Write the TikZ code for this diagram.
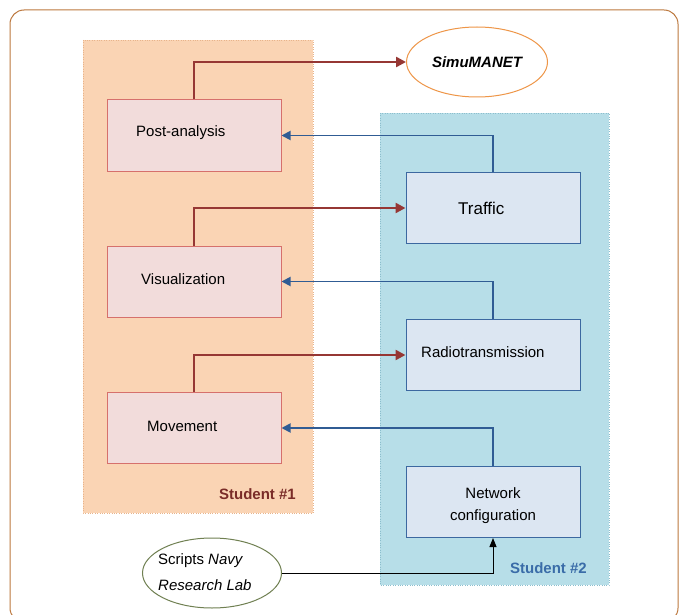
\documentclass[tikz,border=0pt]{standalone}
\usepackage{fontspec}
\setmainfont{Liberation Sans}
\usetikzlibrary{arrows.meta,shapes.geometric}
\definecolor{frameC}{RGB}{188,120,62}
\definecolor{orangeFill}{RGB}{250,212,180}
\definecolor{orangeLine}{RGB}{232,180,140}
\definecolor{blueFill}{RGB}{183,222,232}
\definecolor{blueLine}{RGB}{140,190,205}
\definecolor{redBoxFill}{RGB}{242,220,219}
\definecolor{redBoxLine}{RGB}{214,112,108}
\definecolor{blueBoxFill}{RGB}{220,230,242}
\definecolor{blueBoxLine}{RGB}{60,104,160}
\definecolor{redArrow}{RGB}{150,55,52}
\definecolor{blueArrow}{RGB}{48,92,148}
\definecolor{stuOne}{RGB}{122,44,40}
\definecolor{stuTwo}{RGB}{58,108,168}
\definecolor{simuLine}{RGB}{238,150,72}
\definecolor{scriptLine}{RGB}{112,128,82}
\tikzset{
  redbox/.style={draw=redBoxLine, fill=redBoxFill, line width=1pt, minimum width=174pt, minimum height=71pt, inner sep=0pt},
  bluebox/.style={draw=blueBoxLine, fill=blueBoxFill, line width=1pt, minimum width=174pt, minimum height=71pt, inner sep=0pt},
  lbl/.style={font=\fontsize{15}{18}\selectfont, inner sep=0pt, anchor=west},
  redarr/.style={draw=redArrow, line width=2.4pt, -{Triangle[length=10pt,width=10pt]}},
  bluearr/.style={draw=blueArrow, line width=1.8pt, -{Triangle[length=9pt,width=9pt]}},
  blackarr/.style={draw=black, line width=1pt, -{Triangle[length=9pt,width=7pt]}},
}
\begin{document}
\begin{tikzpicture}[x=1pt,y=-1pt]
\useasboundingbox (0,0) rectangle (680,615);
\fill[white] (0,0) rectangle (680,615);
% outer frame
\draw[frameC, line width=1pt, rounded corners=14pt] (10,10) rectangle (678,622);
% regions
\draw[orangeLine, fill=orangeFill, dotted] (83,40) rectangle (313,513);
\draw[blueLine, fill=blueFill, dotted] (380,113) rectangle (609,585);
% boxes
\node[redbox] (post) at (194,135.5) {};
\node[redbox] (vis) at (194,281.5) {};
\node[redbox] (move) at (194,428) {};
\node[bluebox] (traffic) at (493,208) {};
\node[bluebox] (radio) at (493,355) {};
\node[bluebox, align=center, font=\fontsize{15}{24}\selectfont] (net) at (493,502) {};
% box texts
\node[lbl] (postT) at (136,133) {Post-analysis};
\node[lbl] (visT) at (141,279) {Visualization};
\node[lbl] (moveT) at (147,426) {Movement};
\node[lbl, font=\fontsize{17}{20}\selectfont] (trafT) at (458,208) {Traffic};
\node[lbl] (radioT) at (421,352) {Radiotransmission};
\node[lbl, anchor=center] (netT1) at (493,493) {Network};
\node[lbl, anchor=center] (netT2) at (493,517) {configuration};
% ellipses
\node[ellipse, draw=simuLine, fill=white, line width=1pt, minimum width=141pt, minimum height=70pt, font=\fontsize{15}{18}\selectfont\bfseries\itshape] (simu) at (477,62) {SimuMANET};
\node[ellipse, draw=scriptLine, fill=white, line width=1pt, minimum width=139pt, minimum height=70pt, inner sep=0pt] (scripts) at (212,573) {};
\node[lbl] (scrT1) at (158,561) {Scripts \textit{Navy}};
\node[lbl] (scrT2) at (158,585) {\textit{Research Lab}};
% student labels
\node[font=\fontsize{15}{18}\selectfont\bfseries, text=stuOne, anchor=east, inner sep=0pt] (s1) at (296,494) {Student \#1};
\node[font=\fontsize{15}{18}\selectfont\bfseries, text=stuTwo, anchor=east, inner sep=0pt] (s2) at (587,568) {Student \#2};
% red arrows
\draw[redarr] (post.north) |- (simu.west);
\draw[redarr] (vis.north) |- (traffic.west);
\draw[redarr] (move.north) |- (radio.west);
% blue arrows
\draw[bluearr] (traffic.north) |- (post.east);
\draw[bluearr] (radio.north) |- (vis.east);
\draw[bluearr] (net.north) |- (move.east);
% black arrow
\draw[blackarr] (scripts.east) -| (net.south);
\end{tikzpicture}
\end{document}
